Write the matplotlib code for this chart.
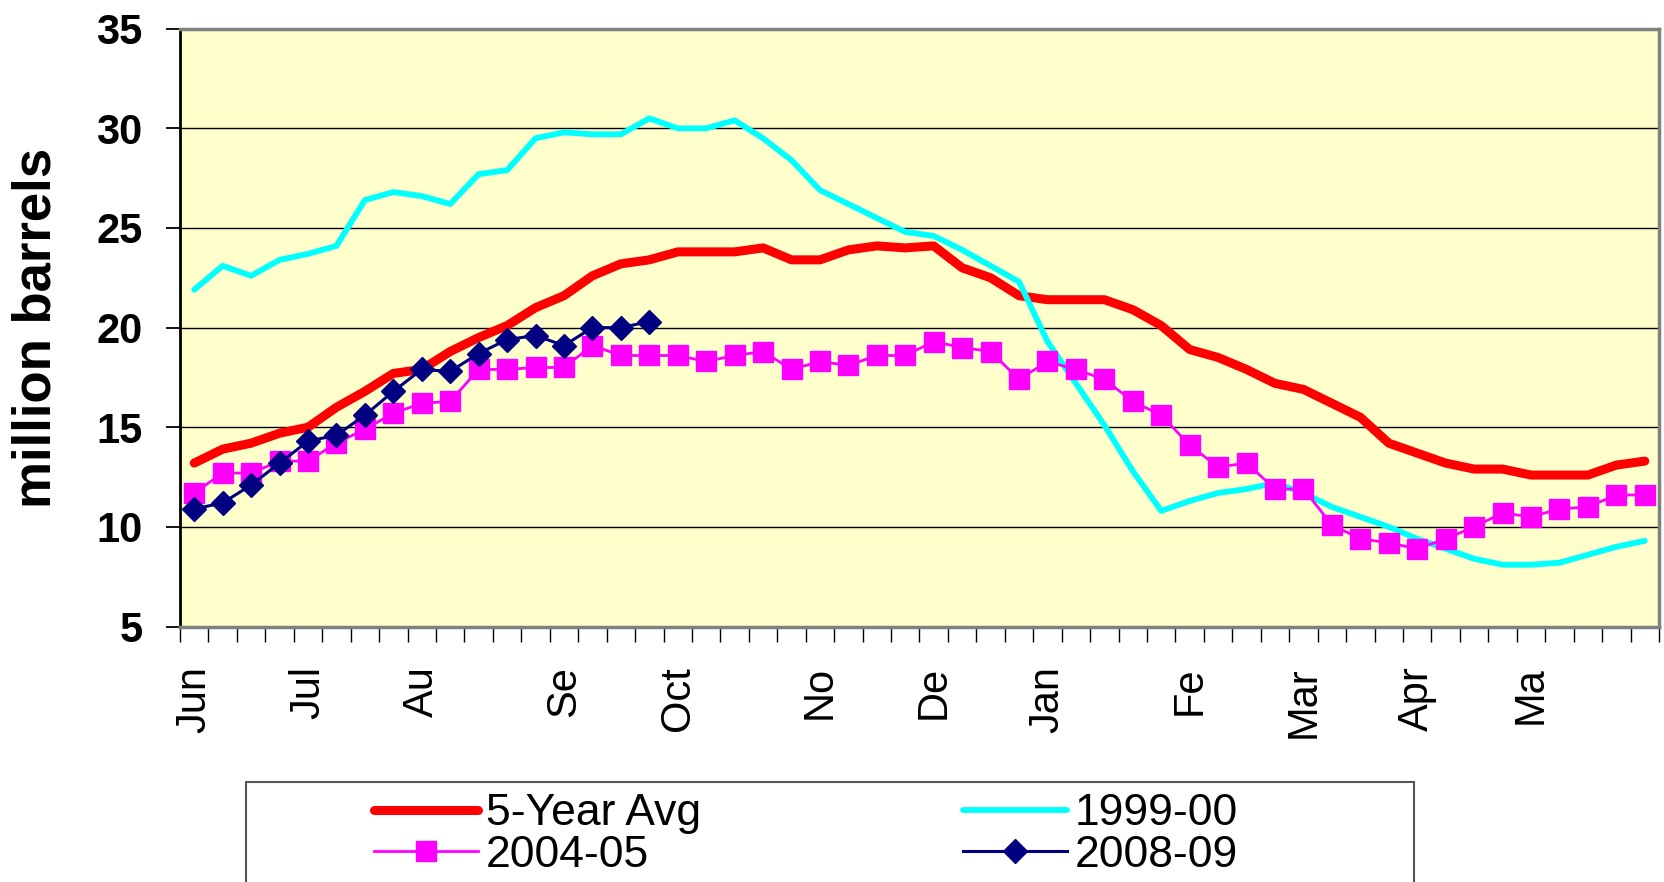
import numpy as np
import matplotlib
matplotlib.use("Agg")
import matplotlib.pyplot as plt
from matplotlib.patches import Rectangle

plt.rcParams["font.family"] = ["Liberation Sans", "DejaVu Sans"]

# ── Data (weekly, June → May) ───────────────────────────────────────────────

month_names = ["Jun", "Jul", "Au", "Se", "Oct", "No", "De", "Jan", "Fe", "Mar", "Apr", "Ma"]
month_pos = [0, 4, 8, 13, 17, 22, 26, 30, 35, 39, 43, 47]

five_year_avg = [
    13.2, 13.9, 14.2, 14.7, 15.0, 16.0, 16.8, 17.7, 17.9, 18.8,
    19.5, 20.1, 21.0, 21.6, 22.6, 23.2, 23.4, 23.8, 23.8, 23.8,
    24.0, 23.4, 23.4, 23.9, 24.1, 24.0, 24.1, 23.0, 22.5, 21.6,
    21.4, 21.4, 21.4, 20.9, 20.1, 18.9, 18.5, 17.9, 17.2, 16.9,
    16.2, 15.5, 14.2, 13.7, 13.2, 12.9, 12.9, 12.6, 12.6, 12.6,
    13.1, 13.3,
]
y1999 = [
    21.9, 23.1, 22.6, 23.4, 23.7, 24.1, 26.4, 26.8, 26.6, 26.2,
    27.7, 27.9, 29.5, 29.8, 29.7, 29.7, 30.5, 30.0, 30.0, 30.4,
    29.5, 28.4, 26.9, 26.2, 25.5, 24.8, 24.6, 23.9, 23.1, 22.3,
    19.3, 17.2, 15.1, 12.8, 10.8, 11.3, 11.7, 11.9, 12.2, 11.7,
    11.0, 10.5, 10.0, 9.4, 8.9, 8.4, 8.1, 8.1, 8.2, 8.6,
    9.0, 9.3,
]
y2004 = [
    11.7, 12.7, 12.7, 13.3, 13.3, 14.2, 14.9, 15.7, 16.2, 16.3,
    17.9, 17.9, 18.0, 18.0, 19.1, 18.6, 18.6, 18.6, 18.3, 18.6,
    18.8, 17.9, 18.3, 18.1, 18.6, 18.6, 19.3, 19.0, 18.8, 17.4,
    18.3, 17.9, 17.4, 16.3, 15.6, 14.1, 13.0, 13.2, 11.9, 11.9,
    10.1, 9.4, 9.2, 8.9, 9.4, 10.0, 10.7, 10.5, 10.9, 11.0,
    11.6, 11.6,
]
y2008 = [
    10.9, 11.2, 12.1, 13.2, 14.3, 14.6, 15.6, 16.8, 17.9, 17.8,
    18.7, 19.4, 19.6, 19.1, 20.0, 20.0, 20.3,
]

# ── Figure ──────────────────────────────────────────────────────────────────

W, H = 1665, 882
fig = plt.figure(figsize=(W / 100, H / 100), dpi=100)
ax = fig.add_axes([180 / W, 1 - 626.5 / H, (1659 - 180) / W, (626.5 - 28.7) / H])
ax.set_facecolor("#FFFFCC")

l_avg, = ax.plot(np.arange(len(five_year_avg)), five_year_avg, color="#FF0000", lw=6.5,
                 solid_capstyle="round", solid_joinstyle="round", zorder=3)
l_99, = ax.plot(np.arange(len(y1999)), y1999, color="#00FFFF", lw=4.2,
                solid_capstyle="round", solid_joinstyle="round", zorder=4)
l_04, = ax.plot(np.arange(len(y2004)), y2004, color="#FF00FF", lw=2,
                marker="s", ms=14.5, mec="#FF00FF", zorder=5)
l_08, = ax.plot(np.arange(len(y2008)), y2008, color="#000080", lw=2.2,
                marker="D", ms=12.5, mec="#000080", zorder=6)

ax.set_xlim(-0.5, 51.5)
ax.set_ylim(5, 35)

# y axis
ax.set_yticks(range(5, 36, 5))
ax.tick_params(axis="y", direction="out", length=10, width=1.3, pad=17,
               labelsize=30, colors="black")
for t in ax.get_yticklabels():
    t.set_fontweight("bold")
ax.yaxis.grid(True, color="black", lw=1)
ax.set_axisbelow(True)

# x axis: ticks between weeks, month labels on the week
ax.set_xticks(month_pos)
ax.set_xticklabels(month_names, rotation=90, va="top", ha="center", fontsize=30)
ax.set_xticks(np.arange(-0.5, 52, 1), minor=True)
ax.tick_params(axis="x", which="major", length=0, pad=28.5)
ax.tick_params(axis="x", which="minor", direction="out", length=11, width=1, color="black")

for name, sp in ax.spines.items():
    sp.set_edgecolor("#808080")
    sp.set_linewidth(2.5)
ax.spines["left"].set_edgecolor("black")
ax.spines["left"].set_linewidth(2)

fig.text(37 / W, 1 - 327.6 / H, "million barrels", rotation=90, ha="center",
         va="center", fontsize=38, fontweight="bold")

# ── Legend ──────────────────────────────────────────────────────────────────

fig.patches.append(Rectangle((246 / W, -0.05), (1414 - 246) / W, 0.05 + 1 - 782 / H,
                             transform=fig.transFigure, fill=False,
                             edgecolor="#555555", lw=1.5))

leg_kw = dict(loc="center left", frameon=False, fontsize=32, borderpad=0,
              borderaxespad=0, handlelength=2.34, handletextpad=0.18,
              labelspacing=0.02)
fig.legend([l_avg, l_04], ["5-Year Avg", "2004-05"],
           bbox_to_anchor=(374 / W, 1 - 834.5 / H), **leg_kw)
fig.legend([l_99, l_08], ["1999-00", "2008-09"],
           bbox_to_anchor=(963 / W, 1 - 834.5 / H), **leg_kw)

fig.savefig("out.png", dpi=100, facecolor="white")
